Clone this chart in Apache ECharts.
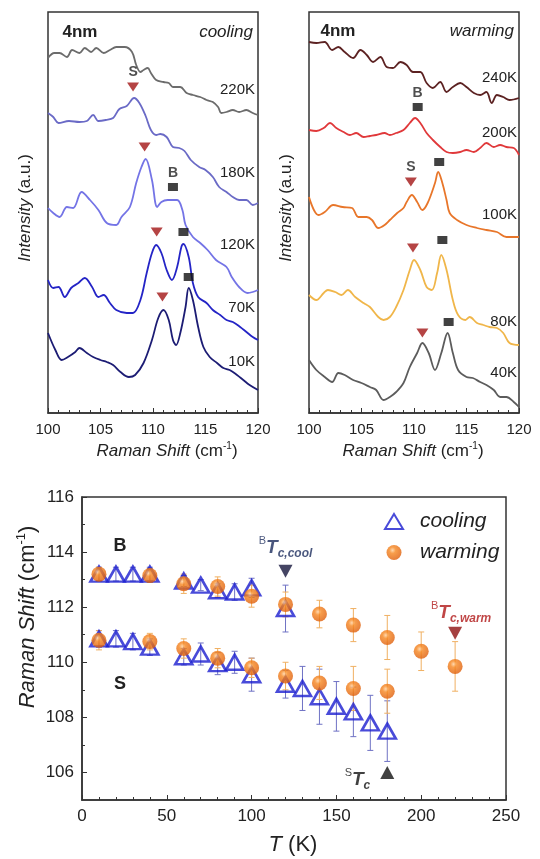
<!DOCTYPE html>
<html>
<head>
<meta charset="utf-8">
<script src="https://cdn.jsdelivr.net/npm/echarts@6/dist/echarts.min.js"></script>
<style>
  html, body { margin: 0; padding: 0; background: #fff; }
  #chart { width: 540px; height: 859px; }
</style>
</head>
<body>
<div id="chart"></div>
<script>
// spectra, cooling run (intensity in a.u., offset per temperature)
const cool220K = [[100,355],[100.6,360],[101.1,360],[101.8,356],[102.3,363],[103,360],[103.5,365],[104.1,361],[104.6,365],[105.3,360],[105.9,363],[106.5,366],[107.3,366],[108,361],[108.4,348],[108.8,341],[109.1,343],[109.5,345],[109.8,340],[110.3,333],[111,331],[111.5,330],[111.9,326],[112.6,326],[113.2,320],[113.8,318],[114.5,316],[115.1,313],[115.7,311],[116.2,306],[116.5,300],[117,301],[117.6,303],[118.2,301],[118.9,303],[119.5,300],[120,298]]
const cool180K = [[100,300],[100.5,296],[101,290],[102,292],[103,291],[103.7,292],[104.3,298],[104.8,292],[105.5,293],[106.2,295],[106.8,304],[107.5,307],[108.2,315],[108.7,310],[109.3,297],[109.8,283],[110.3,278],[110.7,279],[111.3,276],[111.9,266],[112.5,265],[113,262],[113.6,253],[114.4,246],[115,243],[115.7,236],[116.3,226],[117,221],[117.6,216],[118.2,213],[118.9,213],[119.5,208],[120,210]]
const cool120K = [[100,205],[100.5,200],[101.1,196],[101.8,206],[102.4,205],[103.2,221],[104,213],[104.8,203],[105.6,190],[106.5,188],[107,196],[107.8,206],[108.4,230],[108.9,246],[109.3,254],[109.9,233],[110.4,206],[110.8,211],[111.4,213],[112.3,213],[112.8,203],[113.1,188],[113.8,176],[114.5,170],[115.2,163],[116,153],[117,146],[117.5,136],[118.2,126],[119,120],[119.5,121],[120,123]]
const cool70K = [[100,133],[100.5,125],[101,126],[101.6,116],[102.2,125],[102.9,130],[103.5,135],[104.2,126],[104.8,116],[105.3,118],[105.9,110],[106.5,103],[107.5,100],[108.1,100],[108.8,113],[109.4,140],[109.9,160],[110.3,168],[110.8,160],[111.3,143],[111.8,133],[112.3,146],[112.7,166],[112.9,169],[113.4,156],[113.8,130],[114.3,116],[115.1,110],[115.7,103],[116.4,98],[117,93],[117.6,91],[118.3,86],[118.9,81],[119.5,76],[120,73]]
const cool10K = [[100,80],[100.7,63],[101.3,53],[101.9,56],[102.6,61],[103,65],[103.7,60],[104.3,56],[105,53],[105.6,51],[106.2,48],[106.9,41],[107.7,36],[108.3,38],[109.1,50],[109.9,73],[110.5,95],[111,103],[111.5,93],[111.9,73],[112.2,68],[112.6,80],[113.1,106],[113.4,125],[113.8,113],[114.3,86],[114.8,66],[115.4,56],[116.1,50],[116.7,45],[117.3,43],[118,38],[118.6,33],[119.2,28],[120,23]]
const coolS = [[108.1,326],[109.2,266],[110.35,181],[110.9,116]]
const coolB = [[111.9,226],[112.9,181],[113.4,136]]

// spectra, warming run
const warm240K = [[100,371],[100.7,370],[101.5,371],[102.2,363],[102.8,366],[103.4,361],[104.2,355],[104.9,363],[105.5,358],[106.1,351],[106.8,356],[107.4,346],[108,345],[108.7,351],[109.3,348],[109.9,341],[110.6,341],[111.2,330],[111.8,325],[112.5,331],[113.1,321],[113.7,326],[114.4,330],[115,326],[115.7,320],[116.3,318],[116.9,321],[117.4,310],[117.9,318],[118.5,316],[119.1,313],[120,315]]
const warm200K = [[100,283],[100.7,282],[101.4,285],[102,290],[102.6,285],[103.3,281],[103.9,278],[104.5,280],[105.2,276],[105.8,277],[106.4,278],[107.2,280],[107.7,278],[108.3,280],[109,283],[109.6,290],[110.1,295],[110.6,290],[111.2,280],[111.8,273],[112.5,266],[113.1,261],[113.7,260],[114.4,261],[115,263],[115.7,261],[116.3,265],[116.9,270],[117.6,266],[118.2,268],[118.8,266],[119.5,265],[120,258]]
const warm100K = [[100,216],[100.9,198],[101.5,201],[102.3,208],[103.2,206],[104.1,205],[104.7,196],[105.5,196],[106,193],[106.6,185],[107.2,188],[107.7,193],[108.4,200],[109,205],[109.3,211],[109.8,218],[110.3,211],[110.8,203],[111.3,210],[112,230],[112.3,241],[112.7,230],[113.1,213],[113.4,200],[114.1,193],[115,188],[116,185],[116.9,183],[117.9,181],[118.8,176],[120,176]]
const warm80K = [[100,118],[100.7,113],[101.4,120],[101.8,123],[102.5,121],[103.1,118],[103.7,123],[104.4,116],[105.2,110],[105.8,106],[106.6,96],[107.1,93],[107.7,96],[108.3,106],[109,123],[109.6,143],[110,153],[110.6,143],[111.2,126],[111.7,123],[112.2,140],[112.6,158],[113.1,143],[113.7,113],[114.2,98],[114.9,93],[115.3,96],[116,90],[116.6,88],[117.2,86],[117.9,85],[118.5,80],[119.1,70],[120,68]]
const warm40K = [[100,53],[100.7,43],[101.5,36],[102.2,31],[102.8,40],[103.4,38],[104.2,33],[105,30],[105.8,26],[106.4,23],[107.1,13],[107.7,16],[108.3,21],[109,30],[109.6,46],[110.3,60],[110.8,70],[111.4,60],[112,43],[112.6,60],[113.2,80],[113.7,60],[114.2,43],[115,36],[115.6,35],[116.3,31],[116.9,28],[117.6,23],[118.2,16],[118.8,16],[119.5,11],[120,6]]
const warmS = [[109.7,231],[109.9,165],[110.8,80]]
const warmB = [[110.35,306],[112.4,251],[112.7,173],[113.3,91]]

// peak positions vs temperature
const tCoolB = [10, 20, 30, 40, 60, 70, 80, 90, 100, 120]
const posCoolB = [113.2, 113.2, 113.2, 113.2, 112.95, 112.8, 112.6, 112.55, 112.7, 111.95]
const errCoolB = [0.25, 0.25, 0.25, 0.25, 0.2, 0.2, 0.25, 0.3, 0.35, 0.85]
const tCoolS = [10, 20, 30, 40, 60, 70, 80, 90, 100, 120, 130, 140, 150, 160, 170, 180]
const posCoolS = [110.85, 110.85, 110.75, 110.55, 110.2, 110.3, 109.95, 110.0, 109.55, 109.2, 109.05, 108.75, 108.4, 108.2, 107.8, 107.5]
const errCoolS = [0.3, 0.3, 0.3, 0.3, 0.3, 0.4, 0.4, 0.4, 0.6, 0.5, 0.8, 1.0, 0.9, 0.9, 1.0, 1.1]
const tWarmB = [10, 40, 60, 80, 100, 120, 140, 160, 180, 200, 220]
const posWarmB = [113.2, 113.15, 112.85, 112.75, 112.4, 112.1, 111.75, 111.35, 110.9, 110.4, 109.85]
const errWarmB = [0.25, 0.25, 0.35, 0.35, 0.4, 0.45, 0.5, 0.6, 0.8, 0.7, 0.9]
const tWarmS = [10, 40, 60, 80, 100, 120, 140, 160, 180]
const posWarmS = [110.8, 110.75, 110.5, 110.15, 109.8, 109.5, 109.25, 109.05, 108.95]
const errWarmS = [0.35, 0.3, 0.35, 0.35, 0.35, 0.5, 0.6, 0.8, 0.8]
const yTicks = [106, 108, 110, 112, 114, 116]
const yMinorTicks = [107, 109, 111, 113, 115]

const FONT = 'Liberation Sans, Arial, sans-serif'
const chart = echarts.init(document.getElementById('chart'), null, { renderer: 'canvas' })

function curve(data, color, xi) {
  return {
    type: 'line', data: data, xAxisIndex: xi, yAxisIndex: xi,
    smooth: 0.35, showSymbol: false, silent: true,
    lineStyle: { color: color, width: 1.8 }
  }
}

function peakMarks(data, kind, xi, tag) {
  const tri = kind === 'S'
  return {
    type: 'scatter', xAxisIndex: xi, yAxisIndex: xi, silent: true, z: 5,
    symbol: tri ? 'triangle' : 'rect',
    symbolRotate: tri ? 180 : 0,
    symbolSize: tri ? [12, 9] : [10, 8],
    itemStyle: { color: tri ? '#a31515' : '#111' },
    data: data.map((d, i) => ({
      value: d,
      label: i === tag ? {
        show: true, position: 'top', distance: 3, formatter: kind,
        fontFamily: FONT, fontWeight: 'bold', fontSize: 14, color: '#222'
      } : { show: false }
    }))
  }
}

function errBars(ts, vals, errs, color) {
  return {
    type: 'custom', xAxisIndex: 2, yAxisIndex: 2, silent: true, z: 2,
    data: ts.map((t, i) => [t, vals[i], errs[i]]),
    renderItem: function (params, api) {
      const t = api.value(0), v = api.value(1), e = api.value(2)
      const top = api.coord([t, v + e])
      const bot = api.coord([t, v - e])
      const st = { stroke: color, lineWidth: 1 }
      return {
        type: 'group',
        children: [
          { type: 'line', shape: { x1: top[0], y1: top[1], x2: bot[0], y2: bot[1] }, style: st },
          { type: 'line', shape: { x1: top[0] - 3, y1: top[1], x2: top[0] + 3, y2: top[1] }, style: st },
          { type: 'line', shape: { x1: bot[0] - 3, y1: bot[1], x2: bot[0] + 3, y2: bot[1] }, style: st }
        ]
      }
    }
  }
}

const orangeBall = new echarts.graphic.RadialGradient(0.4, 0.35, 0.7, [
  { offset: 0, color: '#ffcf9c' },
  { offset: 0.3, color: '#f6861f' },
  { offset: 1, color: '#dc5a08' }
])
const coolStyle = { color: 'rgba(255,255,255,0)', borderColor: '#1c1ed0', borderWidth: 2.6 }

function spectraX(left) {
  return {
    gridIndex: left, type: 'value', min: 100, max: 120, interval: 5,
    axisLine: { lineStyle: { color: '#333', width: 1.5 } },
    axisTick: { inside: true, length: 5, lineStyle: { color: '#333' } },
    minorTick: { show: true, splitNumber: 5, length: 3, lineStyle: { color: '#333' } },
    splitLine: { show: false },
    axisLabel: { fontFamily: FONT, fontSize: 15, color: '#222', margin: 9 }
  }
}
function spectraY(i) {
  return {
    gridIndex: i, type: 'value', min: 0, max: 401,
    axisLine: { show: false }, axisTick: { show: false },
    axisLabel: { show: false }, splitLine: { show: false }
  }
}

const axisName = {
  i: { fontFamily: FONT, fontStyle: 'italic', fontSize: 17, color: '#222' },
  n: { fontFamily: FONT, fontSize: 17, color: '#222' },
  s: { fontFamily: FONT, fontSize: 10, color: '#222', verticalAlign: 'top' }
}
function gText(x, y, text, style, rotation) {
  return {
    type: 'text', x: x, y: y, rotation: rotation || 0, silent: true,
    style: Object.assign({ text: text, fontFamily: FONT, fill: '#222', align: 'center', verticalAlign: 'middle' }, style)
  }
}
function tcRich(color) {
  return {
    p: { fontFamily: FONT, fontSize: 11, color: color, verticalAlign: 'top' },
    t: { fontFamily: FONT, fontSize: 19, fontStyle: 'italic', fontWeight: 'bold', color: color, lineHeight: 24 },
    c: { fontFamily: FONT, fontSize: 12, fontStyle: 'italic', fontWeight: 'bold', color: color, verticalAlign: 'bottom' }
  }
}

const option = {
  animation: false,
  backgroundColor: '#fff',
  grid: [
    { left: 48, top: 12, width: 210, height: 401, show: true, borderColor: '#333', borderWidth: 1.5 },
    { left: 309, top: 12, width: 210, height: 401, show: true, borderColor: '#333', borderWidth: 1.5 },
    { left: 82, top: 497, width: 424, height: 303, show: true, borderColor: '#333', borderWidth: 1.5 }
  ],
  xAxis: [
    spectraX(0),
    spectraX(1),
    {
      gridIndex: 2, type: 'value', min: 0, max: 250, interval: 50,
      axisLine: { lineStyle: { color: '#333', width: 1.5 } },
      axisTick: { inside: true, length: 5, lineStyle: { color: '#333' } },
      minorTick: { show: true, splitNumber: 5, length: 3, lineStyle: { color: '#333' } },
      splitLine: { show: false },
      axisLabel: { fontFamily: FONT, fontSize: 17, color: '#222', margin: 8 }
    }
  ],
  yAxis: [
    spectraY(0),
    spectraY(1),
    {
      gridIndex: 2, type: 'value', min: 105, max: 116,
      axisLine: { lineStyle: { color: '#333', width: 1.5 } },
      axisTick: { inside: true, length: 5, customValues: yTicks, lineStyle: { color: '#333' } },
      axisLabel: { customValues: yTicks, fontFamily: FONT, fontSize: 17, color: '#222', margin: 8 },
      splitLine: { show: false }
    },
    {
      gridIndex: 2, type: 'value', min: 105, max: 116, position: 'left',
      axisLine: { show: false },
      axisTick: { inside: true, length: 3, customValues: yMinorTicks, lineStyle: { color: '#333' } },
      axisLabel: { show: false },
      splitLine: { show: false }
    }
  ],
  legend: {
    data: ['cooling', 'warming'],
    orient: 'vertical', left: 384, top: 511, itemGap: 10,
    itemWidth: 18, itemHeight: 15, padding: 0,
    textStyle: { fontFamily: FONT, fontStyle: 'italic', fontSize: 21, color: '#222', padding: [0, 0, 0, 12] }
  },
  graphic: [
    gText(80, 32, '4nm', { fontWeight: 'bold', fontSize: 17 }),
    gText(253, 32, 'cooling', { fontStyle: 'italic', fontSize: 17, align: 'right' }),
    gText(338, 31, '4nm', { fontWeight: 'bold', fontSize: 17 }),
    gText(514, 31, 'warming', { fontStyle: 'italic', fontSize: 17, align: 'right' }),
    gText(255, 90, '220K', { fontSize: 15, align: 'right' }),
    gText(255, 173, '180K', { fontSize: 15, align: 'right' }),
    gText(255, 245, '120K', { fontSize: 15, align: 'right' }),
    gText(255, 308, '70K', { fontSize: 15, align: 'right' }),
    gText(255, 362, '10K', { fontSize: 15, align: 'right' }),
    gText(517, 78, '240K', { fontSize: 15, align: 'right' }),
    gText(517, 133, '200K', { fontSize: 15, align: 'right' }),
    gText(517, 215, '100K', { fontSize: 15, align: 'right' }),
    gText(517, 322, '80K', { fontSize: 15, align: 'right' }),
    gText(517, 373, '40K', { fontSize: 15, align: 'right' }),
    gText(167, 451, '{i|Raman Shift}{n| (cm}{s|-1}{n|)}', { rich: axisName, lineHeight: 20 }),
    gText(413, 451, '{i|Raman Shift}{n| (cm}{s|-1}{n|)}', { rich: axisName, lineHeight: 20 }),
    gText(25, 208, '{i|Intensity}{n| (a.u.)}', { rich: axisName, lineHeight: 20 }, Math.PI / 2),
    gText(286, 208, '{i|Intensity}{n| (a.u.)}', { rich: axisName, lineHeight: 20 }, Math.PI / 2),
    gText(28, 617, '{i|Raman Shift}{n| (cm}{s|-1}{n|)}', {
      rich: {
        i: { fontFamily: FONT, fontStyle: 'italic', fontSize: 22, color: '#222' },
        n: { fontFamily: FONT, fontSize: 22, color: '#222' },
        s: { fontFamily: FONT, fontSize: 13, color: '#222', verticalAlign: 'top' }
      }, lineHeight: 26
    }, Math.PI / 2),
    gText(293, 845, '{i|T}{n| (K)}', {
      rich: {
        i: { fontFamily: FONT, fontStyle: 'italic', fontSize: 22, color: '#222' },
        n: { fontFamily: FONT, fontSize: 22, color: '#222' }
      }
    }),
    gText(120, 546, 'B', { fontWeight: 'bold', fontSize: 18 }),
    gText(120, 684, 'S', { fontWeight: 'bold', fontSize: 18 })
  ],
  series: [
    curve(cool220K, '#6c6c6c', 0),
    curve(cool180K, '#6a6ac6', 0),
    curve(cool120K, '#7474e6', 0),
    curve(cool70K, '#2424c6', 0),
    curve(cool10K, '#1c1c74', 0),
    peakMarks(coolS, 'S', 0, 0),
    peakMarks(coolB, 'B', 0, 0),
    curve(warm240K, '#5c2222', 1),
    curve(warm200K, '#e0383a', 1),
    curve(warm100K, '#e8762a', 1),
    curve(warm80K, '#f0b64a', 1),
    curve(warm40K, '#5c5c5c', 1),
    peakMarks(warmS, 'S', 1, 0),
    peakMarks(warmB, 'B', 1, 0),
    errBars(tCoolB, posCoolB, errCoolB, '#6f72c4'),
    errBars(tCoolS, posCoolS, errCoolS, '#6f72c4'),
    errBars(tWarmB, posWarmB, errWarmB, '#f0b062'),
    errBars(tWarmS, posWarmS, errWarmS, '#f0b062'),
    {
      name: 'cooling', type: 'scatter', xAxisIndex: 2, yAxisIndex: 2, z: 3,
      symbol: 'triangle', symbolSize: [17, 15], itemStyle: coolStyle,
      data: tCoolB.map((t, i) => [t, posCoolB[i]]).concat(tCoolS.map((t, i) => [t, posCoolS[i]]))
    },
    {
      name: 'warming', type: 'scatter', xAxisIndex: 2, yAxisIndex: 2, z: 4,
      symbol: 'circle', symbolSize: 15, itemStyle: { color: orangeBall },
      data: tWarmB.map((t, i) => [t, posWarmB[i]]).concat(tWarmS.map((t, i) => [t, posWarmS[i]]))
    },
    {
      type: 'scatter', xAxisIndex: 2, yAxisIndex: 2, z: 5, silent: true,
      symbol: 'triangle', symbolSize: [14, 13],
      data: [
        {
          value: [120, 113.3], symbolRotate: 180, itemStyle: { color: '#15153c' },
          label: {
            show: true, position: 'top', distance: 5, formatter: '{p|B}{t|T}{c|c,cool}',
            rich: tcRich('#1c2c5c')
          }
        },
        {
          value: [220, 111.05], symbolRotate: 180, itemStyle: { color: '#8e1010' },
          label: {
            show: true, position: 'top', distance: 2, offset: [6, 0], formatter: '{p|B}{t|T}{c|c,warm}',
            rich: tcRich('#b01818')
          }
        },
        {
          value: [180, 106.0], symbolRotate: 0, itemStyle: { color: '#111' },
          label: {
            show: true, position: 'left', distance: 10, offset: [0, 7], formatter: '{p|S}{t|T}{c|c}',
            rich: tcRich('#111')
          }
        }
      ]
    }
  ]
}

chart.setOption(option)
</script>
</body>
</html>
